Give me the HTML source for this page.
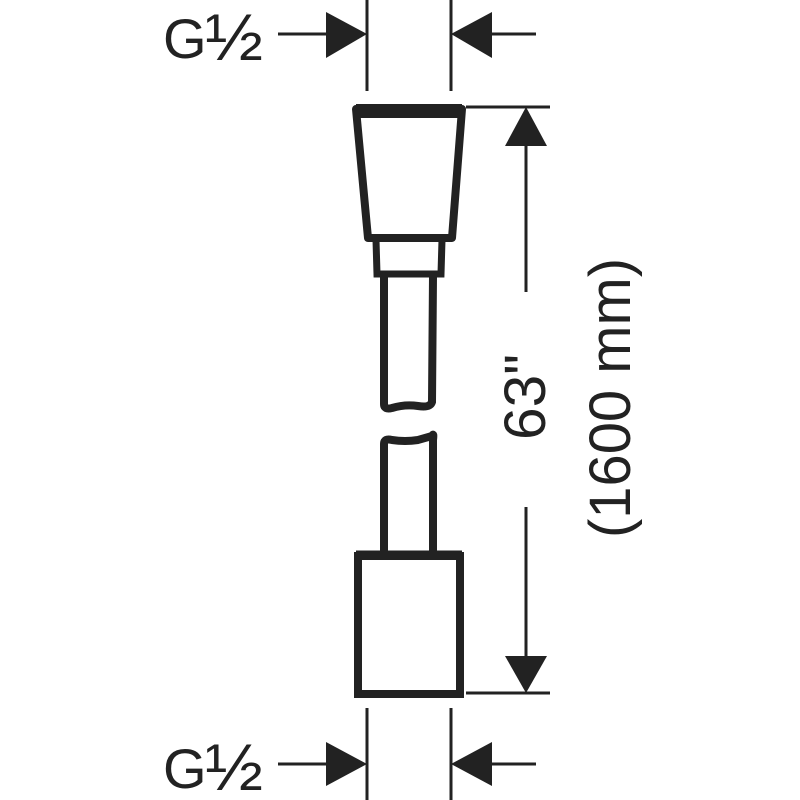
<!DOCTYPE html>
<html><head><meta charset="utf-8"><style>html,body{margin:0;padding:0;background:#fff}svg{display:block}</style></head>
<body>
<svg width="800" height="800" viewBox="0 0 800 800" xmlns="http://www.w3.org/2000/svg">
<g stroke="#222" fill="none">
 <line x1="367" y1="0" x2="367" y2="91" stroke-width="3"/>
 <line x1="451" y1="0" x2="451" y2="91" stroke-width="3"/>
 <line x1="367" y1="708" x2="367" y2="800" stroke-width="3"/>
 <line x1="451" y1="708" x2="451" y2="800" stroke-width="3"/>
 <line x1="278" y1="34" x2="330" y2="34" stroke-width="3"/>
 <line x1="490" y1="34" x2="536" y2="34" stroke-width="3"/>
 <line x1="278" y1="764" x2="330" y2="764" stroke-width="3"/>
 <line x1="490" y1="764" x2="536" y2="764" stroke-width="3"/>
 <line x1="466" y1="107" x2="550" y2="107" stroke-width="3"/>
 <line x1="466" y1="693" x2="550" y2="693" stroke-width="3"/>
 <line x1="526" y1="140" x2="526" y2="292" stroke-width="3"/>
 <line x1="526" y1="507" x2="526" y2="660" stroke-width="3"/>
 <polygon points="356,109 462,109 452,238 368,238" stroke-width="8" stroke-linejoin="round"/>
 <line x1="356" y1="111" x2="462" y2="111" stroke-width="14"/>
 <polyline points="376,240 377,274 441,274 442,240" stroke-width="7"/>
 <path d="M384,276 L384,404 Q384,410 392,408 Q405,404 418,406 Q430,408 432,402 L433,276" stroke-width="8" stroke-linecap="round"/>
 <path d="M384,551 L384,444 Q384,438 392,440 Q405,442 418,440 Q432,436 432,436 Q434,432 433,440 L433,551" stroke-width="8" stroke-linecap="round"/>
 <rect x="358" y="556" width="102" height="138" stroke-width="8"/>
 <line x1="356" y1="555" x2="462" y2="555" stroke-width="9"/>
</g>
<g fill="#222">
 <polygon points="367,34 326,12 326,58"/>
 <polygon points="451,34 492,12 492,58"/>
 <polygon points="367,764 326,742 326,786"/>
 <polygon points="451,764 492,742 492,786"/>
 <polygon points="526,107 505,146 547,146"/>
 <polygon points="526,693 505,656 547,656"/>
</g>
<g font-family="'Liberation Sans', sans-serif" fill="#222">
 <text x="163" y="58" font-size="56">G</text>
 <text x="205" y="60" font-size="66" textLength="58" lengthAdjust="spacingAndGlyphs">½</text>
 <text x="163" y="788" font-size="56">G</text>
 <text x="205" y="790" font-size="66" textLength="58" lengthAdjust="spacingAndGlyphs">½</text>
 <text transform="translate(545,440) rotate(-90)" font-size="58" textLength="86" lengthAdjust="spacingAndGlyphs">63"</text>
 <text transform="translate(630,538) rotate(-90)" font-size="58" textLength="280" lengthAdjust="spacingAndGlyphs">(1600 mm)</text>
</g>
</svg>
</body></html>
